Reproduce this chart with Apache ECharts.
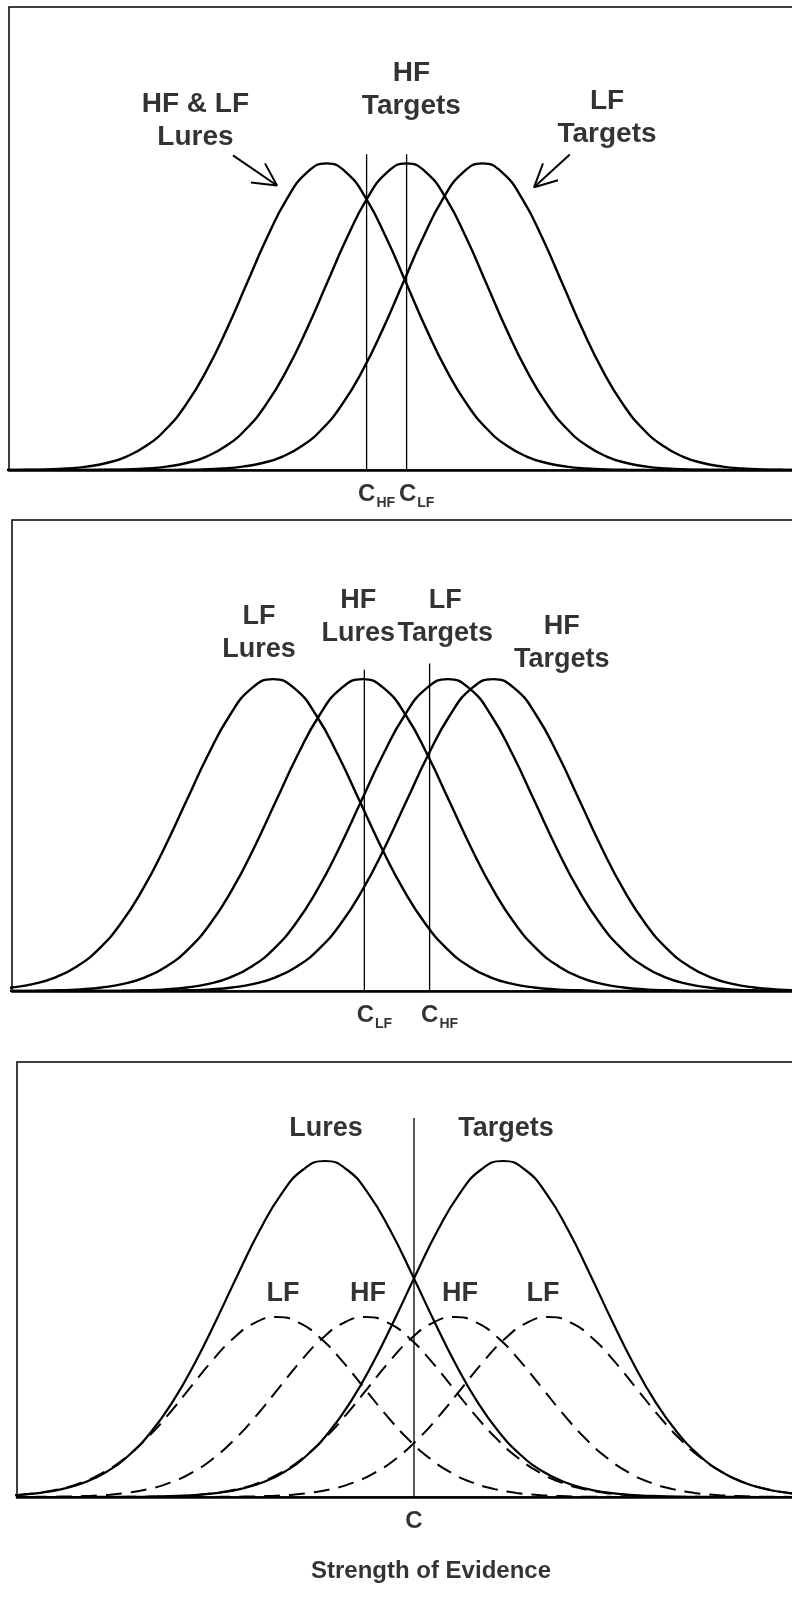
<!DOCTYPE html>
<html><head><meta charset="utf-8">
<script src="https://cdn.jsdelivr.net/npm/echarts@6/dist/echarts.min.js"></script>
<style>html,body{margin:0;padding:0;background:#fff;overflow:hidden}#chart{width:1000px;height:1604px}</style>
</head><body><div id="chart"></div>
<script>
// ---------- DATA (evidence axis in units of one standard deviation) ----------
// Shape of a single strength distribution: height at offsets from its peak
const profileOffsets = [-5,-4.75,-4.5,-4.25,-4,-3.75,-3.5,-3.25,-3,-2.75,-2.5,-2.25,-2,-1.75,-1.5,-1.25,-1,-0.75,-0.5,-0.25,0,
  0.25,0.5,0.75,1,1.25,1.5,1.75,2,2.25,2.5,2.75,3,3.25,3.5,3.75,4,4.25,4.5,4.75,5];
const singleHeights = [0,0,0,0.0001,0.0003,0.0009,0.0022,0.0051,0.0111,0.0228,0.0439,0.0796,0.1353,0.2163,0.3247,0.4578,0.6065,0.7548,0.8825,0.9692,1,
  0.9692,0.8825,0.7548,0.6065,0.4578,0.3247,0.2163,0.1353,0.0796,0.0439,0.0228,0.0111,0.0051,0.0022,0.0009,0.0003,0.0001,0,0,0];
// Panel 3 solid (all lures / all targets) curves, read relative to the dashed HF/LF curves (taller and wider)
const combinedHeights = [0.0001,0.0002,0.0005,0.0011,0.0026,0.0058,0.0122,0.0243,0.0462,0.0835,0.1431,0.2332,0.3608,0.5303,0.7406,0.9824,1.2379,1.4817,1.6847,1.8197,1.867,
  1.8197,1.6847,1.4817,1.2379,0.9824,0.7406,0.5303,0.3608,0.2332,0.1431,0.0835,0.0462,0.0243,0.0122,0.0058,0.0026,0.0011,0.0005,0.0002,0.0001];

// Panel 1
const p1Labels = ['HF & LF\nLures', 'HF\nTargets', 'LF\nTargets'];
const p1Means = [3.97, 4.97, 5.92];
const p1CriterionNames = ['HF', 'LF'];
const p1Criteria = [4.47, 4.97];
const p1CriterionTops = [1.03, 1.03];

// Panel 2
const p2Labels = ['LF\nLures', 'HF\nLures', 'LF\nTargets', 'HF\nTargets'];
const p2Means = [3.0, 4.03, 5.01, 5.53];
const p2CriterionNames = ['LF', 'HF'];
const p2Criteria = [4.05, 4.80];
const p2CriterionTops = [1.03, 1.05];

// Panel 3
const p3ComponentLabels = ['LF', 'HF', 'HF', 'LF'];
const p3ComponentMeans = [2.989, 4.011, 5.034, 6.115];
const p3CombinedLabels = ['Lures', 'Targets'];
const p3CombinedMeans = [3.540, 5.586];
const p3Criterion = 4.563;
const p3CriterionTop = 2.106;
const p3CriterionName = 'C';
const xAxisTitle = 'Strength of Evidence';

// ---------- CHART ----------
const FONT = "'Liberation Sans', Arial, Helvetica, sans-serif";
const curve = (mean, heights) => profileOffsets.map((o, i) => [mean + o, heights[i]]);

const grids = [
  {left: 9, top: 7, width: 800, height: 463},
  {left: 12, top: 520, width: 870, height: 471},
  {left: 17, top: 1062, width: 870, height: 435}
].map(g => Object.assign({show: true, borderColor: '#000', borderWidth: 1.5, backgroundColor: '#fff'}, g));

const yMax = [1.51, 1.51, 2.417];
const xAxes = [0, 1, 2].map(i => ({
  gridIndex: i, type: 'value', min: 0, max: 10,
  axisLine: {show: true, lineStyle: {color: '#000', width: 2.5}},
  axisTick: {show: false}, axisLabel: {show: false}, splitLine: {show: false}
}));
const yAxes = [0, 1, 2].map(i => ({
  gridIndex: i, type: 'value', min: 0, max: yMax[i], show: false, splitLine: {show: false}
}));

const series = [];
function addCurve(gi, data, width, dashed) {
  series.push({
    type: 'line', xAxisIndex: gi, yAxisIndex: gi, data: data, showSymbol: false, smooth: true,
    silent: true, z: 3,
    lineStyle: {color: '#000', width: width, type: dashed ? [16, 9] : 'solid'}
  });
}
function addCriterion(gi, x, top, labelText, dx) {
  series.push({
    type: 'line', xAxisIndex: gi, yAxisIndex: gi, data: [[x, 0], [x, top]], showSymbol: false,
    silent: true, z: 2, lineStyle: {color: '#000', width: 1.3}
  });
  series.push({
    type: 'scatter', xAxisIndex: gi, yAxisIndex: gi, symbolSize: 0, silent: true, z: 5,
    itemStyle: {color: 'rgba(0,0,0,0)'},
    data: [{value: [x, 0], name: labelText}],
    label: {
      show: true, position: 'bottom', distance: 12, offset: [dx, 0], color: '#000',
      formatter: p => p.name.length > 1 ? '{c|C}{s|' + p.name + '}' : '{c|' + p.name + '}',
      rich: {
        c: {fontFamily: FONT, fontSize: 24, fontWeight: 'bold', color: '#000'},
        s: {fontFamily: FONT, fontSize: 14, fontWeight: 'bold', color: '#000', verticalAlign: 'bottom', padding: [0, 0, -4, 1]}
      }
    }
  });
}
function addText(gi, items, size) {
  series.push({
    type: 'scatter', xAxisIndex: gi, yAxisIndex: gi, symbolSize: 0, silent: true, z: 6,
    itemStyle: {color: 'rgba(0,0,0,0)'},
    data: items.map(it => ({value: it.pos, name: it.text})),
    label: {show: true, position: 'inside', formatter: '{b}', fontFamily: FONT, fontSize: size,
      fontWeight: 'bold', lineHeight: 33, color: '#000', align: 'center', verticalAlign: 'middle'}
  });
}
function addArrow(gi, shaft, head) {
  [shaft, head].forEach(d => series.push({
    type: 'line', xAxisIndex: gi, yAxisIndex: gi, data: d, showSymbol: false, silent: true, z: 4,
    lineStyle: {color: '#000', width: 2}
  }));
}

// Panel 1
p1Means.forEach(m => addCurve(0, curve(m, singleHeights), 2.4, false));
p1Criteria.forEach((c, i) => addCriterion(0, c, p1CriterionTops[i], p1CriterionNames[i], 10));
addText(0, [
  {text: p1Labels[0], pos: [2.33, 1.14]},
  {text: p1Labels[1], pos: [5.03, 1.24]},
  {text: p1Labels[2], pos: [7.475, 1.15]}
], 28);
addArrow(0, [[2.80, 1.026], [3.35, 0.928]], [[3.025, 0.938], [3.35, 0.928], [3.20, 1.0]]);
addArrow(0, [[7.01, 1.029], [6.5625, 0.922]], [[6.8625, 0.945], [6.5625, 0.922], [6.675, 1.0]]);

// Panel 2
p2Means.forEach(m => addCurve(1, curve(m, singleHeights), 2.4, false));
p2Criteria.forEach((c, i) => addCriterion(1, c, p2CriterionTops[i], p2CriterionNames[i], 10));
addText(1, [
  {text: p2Labels[0], pos: [2.84, 1.147]},
  {text: p2Labels[1], pos: [3.98, 1.2]},
  {text: p2Labels[2], pos: [4.98, 1.2]},
  {text: p2Labels[3], pos: [6.32, 1.115]}
], 27);

// Panel 3
p3ComponentMeans.forEach(m => addCurve(2, curve(m, singleHeights), 2, true));
p3CombinedMeans.forEach(m => addCurve(2, curve(m, combinedHeights), 2.2, false));
addCriterion(2, p3Criterion, p3CriterionTop, p3CriterionName, 0);
addText(2, [
  {text: p3CombinedLabels[0], pos: [3.552, 2.05]},
  {text: p3CombinedLabels[1], pos: [5.621, 2.05]},
  {text: p3ComponentLabels[0], pos: [3.057, 1.133]},
  {text: p3ComponentLabels[1], pos: [4.034, 1.133]},
  {text: p3ComponentLabels[2], pos: [5.092, 1.133]},
  {text: p3ComponentLabels[3], pos: [6.046, 1.133]}
], 27);
// axis title below the "C" label
series.push({
  type: 'scatter', xAxisIndex: 2, yAxisIndex: 2, symbolSize: 0, silent: true, z: 6,
  itemStyle: {color: 'rgba(0,0,0,0)'},
  data: [{value: [p3Criterion, 0], name: xAxisTitle}],
  label: {show: true, position: 'bottom', distance: 62, offset: [17, 0], formatter: '{b}',
    fontFamily: FONT, fontSize: 24, fontWeight: 'bold', color: '#000'}
});

const chart = echarts.init(document.getElementById('chart'), null, {renderer: 'canvas'});
chart.setOption({
  animation: false,
  backgroundColor: '#fff',
  grid: grids,
  xAxis: xAxes,
  yAxis: yAxes,
  series: series
});
</script>
</body></html>
